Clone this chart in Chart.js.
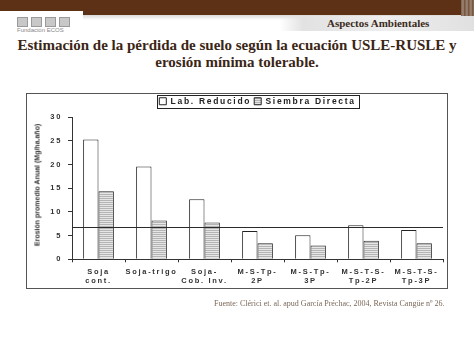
<!DOCTYPE html>
<html><head><meta charset="utf-8">
<script src="https://cdn.jsdelivr.net/npm/chart.js@4.4.1/dist/chart.umd.min.js"></script>
<style>
html,body{margin:0;padding:0;background:#fff;width:474px;height:355px;overflow:hidden;position:relative;font-family:"Liberation Serif",serif;}
#topbar{position:absolute;left:0;top:0;width:474px;height:15px;background:#5d3116;}
#tab{position:absolute;left:0;top:11px;width:83px;height:5px;background:#fff;}
#shade{position:absolute;left:83px;top:15px;width:391px;height:5px;background:linear-gradient(to bottom,#d9d9d9,rgba(255,255,255,0));}
#rband{position:absolute;left:280px;top:16px;width:194px;height:15px;background:linear-gradient(to right,rgba(228,228,228,0) 0%,#e2e2e2 12%,#eeeeee 55%,#e0e0e0 100%);}
#redge{position:absolute;left:461px;top:0;width:13px;height:16px;background:repeating-linear-gradient(to right,#7a5a44 0px,#a08a7a 2px,#6a4630 4px);}
#aspect{position:absolute;left:327px;top:16px;font-family:"Liberation Serif",serif;font-weight:bold;font-size:11px;line-height:15px;color:#3a2a20;}
#logo{position:absolute;left:17px;top:17px;width:54px;height:18px;}
#logo .ic{position:absolute;top:0;width:11px;height:10px;background:#c8c8c8;border:1px solid #9a9a9a;box-sizing:border-box;}
#logo .tx{position:absolute;left:0;top:10px;font-family:"Liberation Sans",sans-serif;font-size:6px;line-height:7px;color:#888;white-space:nowrap;}
#title{position:absolute;left:0;top:36.5px;width:474px;text-align:center;font-family:"Liberation Serif",serif;font-weight:bold;font-size:15px;line-height:17px;color:#3b2616;}
#box{position:absolute;left:26px;top:93px;width:420px;height:194px;border:1px solid #555;}
#cwrap{position:relative;width:420px;height:194px;}
#ytitle{position:absolute;left:37px;top:185px;transform:translate(-50%,-50%) rotate(-90deg);white-space:nowrap;font-family:"Liberation Sans",sans-serif;font-weight:bold;font-size:7px;color:#333;}
#src{position:absolute;right:30px;top:298px;font-family:"Liberation Serif",serif;font-size:8px;line-height:12px;color:#7a6656;white-space:nowrap;will-change:transform;opacity:0.99;}
</style></head>
<body>
<div id="topbar"></div><div id="tab"></div><div id="shade"></div><div id="rband"></div><div id="redge"></div>
<div id="logo">
  <div class="ic" style="left:0"></div><div class="ic" style="left:14px"></div><div class="ic" style="left:28px"></div><div class="ic" style="left:42px"></div>
  <div class="tx">Fundación ECOS</div>
</div>
<div id="aspect">Aspectos Ambientales</div>
<div id="title">Estimación de la pérdida de suelo según la ecuación USLE-RUSLE y<br>erosión mínima tolerable.</div>
<div id="box"><div id="cwrap"><canvas id="c"></canvas></div></div>
<div id="ytitle">Erosión promedio Anual (Mg/ha.año)</div>
<div id="src">Fuente: Clérici et. al. apud García Préchac, 2004, Revista Cangüe nº 26.</div>
<script>
const categories = [["Soja","cont."],["Soja-trigo"],["Soja-","Cob. Inv."],["M-S-Tp-","2P"],["M-S-Tp-","3P"],["M-S-T-S-","Tp-2P"],["M-S-T-S-","Tp-3P"]];
const seriesNames = ["Lab. Reducido","Siembra Directa"];
const labReducido = [25.3, 19.6, 12.7, 6.0, 5.1, 7.2, 6.2];
const siembraDirecta = [14.4, 8.2, 7.8, 3.4, 2.9, 3.9, 3.4];
const erosionTolerable = 6.9;
const yMin = 0, yMax = 30, yStep = 5;

function hatch(){
  const c = document.createElement('canvas'); c.width = 4; c.height = 2;
  const x = c.getContext('2d');
  x.fillStyle = '#e6e6e6'; x.fillRect(0,0,4,2);
  x.fillStyle = '#b4b4b4'; x.fillRect(0,0,4,1);
  return x.createPattern(c,'repeat');
}
const SPACING = '1.7px';
const LEGEND_H = 23.3;
const helper = {
  id:'helper',
  beforeLayout(chart){
    chart.ctx.letterSpacing = SPACING;
    const lg = chart.legend;
    if (lg && !lg._fixedH){
      const f = lg.fit;
      lg.fit = function(){ f.call(this); this.height = LEGEND_H; };
      lg._fixedH = true;
    }
  },
  beforeDraw(chart){ chart.ctx.letterSpacing = SPACING; },
  afterDatasetsDraw(chart){
    const {ctx, chartArea, scales} = chart;
    const y = Math.round(scales.y.getPixelForValue(erosionTolerable)) + 0.5;
    ctx.save(); ctx.strokeStyle = '#2a2a2a'; ctx.lineWidth = 1;
    ctx.beginPath(); ctx.moveTo(chartArea.left, y); ctx.lineTo(chartArea.right, y); ctx.stroke();
    ctx.restore();
  },
  afterDraw(chart){
    const lg = chart.legend; if (!lg || !lg.legendHitBoxes.length) return;
    const hb = lg.legendHitBoxes;
    const l = Math.min(...hb.map(h=>h.left)) - 2.5;
    const r = Math.max(...hb.map(h=>h.left + h.width)) + 3;
    const t = hb[0].top - 2, b = hb[0].top + hb[0].height + 2;
    const ctx = chart.ctx; ctx.save(); ctx.strokeStyle = '#222'; ctx.lineWidth = 1;
    ctx.strokeRect(Math.round(l)+0.5, Math.round(t)+0.5, Math.round(r-l), Math.round(b-t));
    ctx.restore();
  }
};

Chart.defaults.font.family = '"Liberation Sans", Arial, sans-serif';
Chart.defaults.font.weight = 'bold';
Chart.defaults.color = '#333';

new Chart(document.getElementById('c'), {
  type: 'bar',
  data: {
    labels: categories,
    datasets: [
      {label: seriesNames[0], data: labReducido, backgroundColor: '#ffffff', borderColor: '#222', borderWidth: 1},
      {label: seriesNames[1], data: siembraDirecta, backgroundColor: hatch(), borderColor: '#222', borderWidth: 1}
    ]
  },
  options: {
    responsive: true, maintainAspectRatio: false, animation: false,
    layout: {padding: {left: 0, right: 4, top: 0, bottom: 0}},
    categoryPercentage: 0.58, barPercentage: 1.0,
    plugins: {
      legend: {position: 'top', fullSize: false,
        labels: {boxWidth: 7, boxHeight: 7, padding: 3, font: {size: 8.5, weight: 'bold'}, color: '#222'}},
      tooltip: {enabled: false}
    },
    scales: {
      x: {
        grid: {display: true, drawOnChartArea: false, drawTicks: true, tickLength: 3, color: '#333', offset: true},
        border: {display: true, color: '#333', width: 1},
        ticks: {padding: 4.5, autoSkip: false, maxRotation: 0, font: {size: 7.5, lineHeight: 1.25}, color: '#333'},
        afterFit(s){ s.height = 28.7; }
      },
      y: {
        min: yMin, max: yMax,
        grid: {display: true, drawOnChartArea: false, drawTicks: true, tickLength: 4, color: '#333'},
        border: {display: true, color: '#333', width: 1},
        ticks: {stepSize: yStep, padding: 6, font: {size: 7.5}, color: '#333'},
        afterFit(s){ s.width = 45; }
      }
    }
  },
  plugins: [helper]
});
</script>
</body></html>
